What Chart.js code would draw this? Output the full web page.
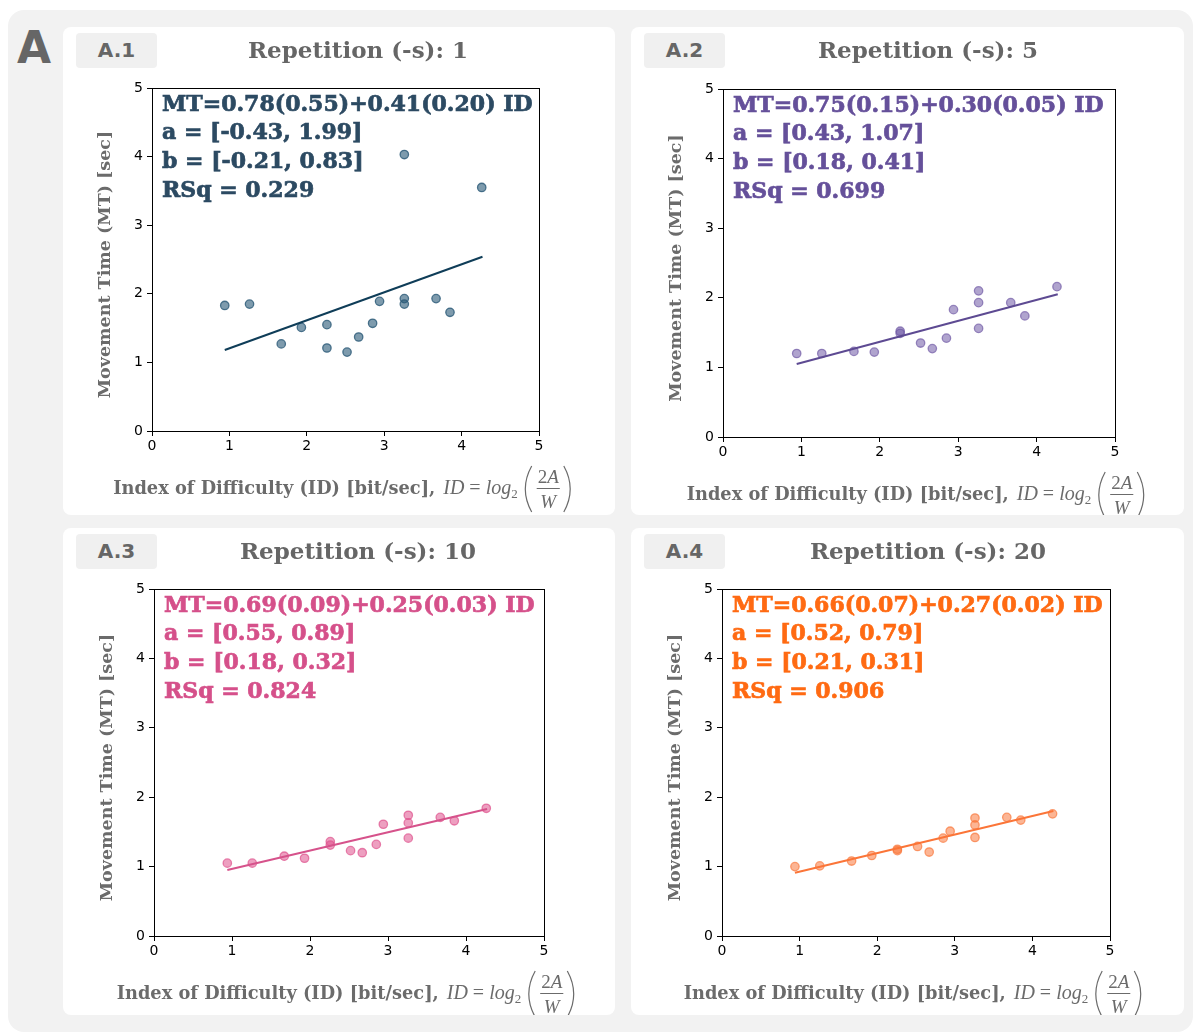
<!DOCTYPE html>
<html>
<head>
<meta charset="utf-8">
<script src="https://cdn.jsdelivr.net/npm/chart.js@4/dist/chart.umd.min.js"></script>
<style>
  html,body{margin:0;padding:0;background:#ffffff;width:1193px;height:1032px;overflow:hidden;}
  #bg{position:absolute;left:8px;top:10px;width:1185px;height:1022px;background:#f2f2f2;border-radius:16px;}
  #bigA{position:absolute;left:17px;top:22px;font:bold 44px 'DejaVu Sans',sans-serif;color:#666;}
  .card{position:absolute;background:#fff;border-radius:8px;}
  .card canvas{position:absolute;left:0;top:0;}
  .badge{position:absolute;left:13px;top:6px;width:81px;height:35px;background:#f0f0f0;border-radius:4px;
         font:bold 20px 'DejaVu Sans',sans-serif;color:#666;text-align:center;line-height:35px;z-index:2;}
  .title{position:absolute;top:9px;height:32px;line-height:32px;font:bold 23px 'DejaVu Serif',serif;color:#666;
         white-space:nowrap;transform:translateX(-50%);z-index:2;}
</style>
</head>
<body>
<div id="bg"></div>
<div id="bigA">A</div>
<div id="root"></div>
<script>
// ---- data ----
const idValues = [0.94, 1.26, 1.67, 1.93, 2.26, 2.26, 2.52, 2.67, 2.85, 2.94, 3.26, 3.26, 3.26, 3.67, 3.85, 4.26];
const mtRep1  = [1.83, 1.85, 1.27, 1.51, 1.55, 1.21, 1.15, 1.37, 1.57, 1.89, 4.03, 1.93, 1.85, 1.93, 1.73, 3.55];
const mtRep5  = [1.20, 1.20, 1.23, 1.22, 1.52, 1.49, 1.35, 1.27, 1.42, 1.83, 2.10, 1.93, 1.56, 1.93, 1.74, 2.16];
const mtRep10 = [1.05, 1.05, 1.15, 1.12, 1.36, 1.31, 1.23, 1.20, 1.32, 1.61, 1.74, 1.63, 1.41, 1.71, 1.66, 1.84];
const mtRep20 = [1.00, 1.01, 1.08, 1.16, 1.25, 1.23, 1.29, 1.21, 1.41, 1.51, 1.70, 1.60, 1.42, 1.71, 1.67, 1.76];
const fitX    = [0.94, 4.27];
const fitRep1  = [1.18, 2.54];
const fitRep5  = [1.05, 2.05];
const fitRep10 = [0.95, 1.83];
const fitRep20 = [0.91, 1.80];
const badges = ["A.1", "A.2", "A.3", "A.4"];
const titles = ["Repetition (-s): 1", "Repetition (-s): 5", "Repetition (-s): 10", "Repetition (-s): 20"];
const notes1  = ["MT=0.78(0.55)+0.41(0.20) ID", "a = [-0.43, 1.99]", "b = [-0.21, 0.83]", "RSq = 0.229"];
const notes5  = ["MT=0.75(0.15)+0.30(0.05) ID", "a = [0.43, 1.07]", "b = [0.18, 0.41]", "RSq = 0.699"];
const notes10 = ["MT=0.69(0.09)+0.25(0.03) ID", "a = [0.55, 0.89]", "b = [0.18, 0.32]", "RSq = 0.824"];
const notes20 = ["MT=0.66(0.07)+0.27(0.02) ID", "a = [0.52, 0.79]", "b = [0.21, 0.31]", "RSq = 0.906"];
const axisTicks = [0, 1, 2, 3, 4, 5];
const yTitle = "Movement Time (MT) [sec]";
const xTitleText = "Index of Difficulty (ID) [bit/sec],";

// ---- layout / style ----
const panels = [
  {card:{l:63, t:27, w:552, h:488}, plot:{l:152, t:88, r:539, b:431}, mt:mtRep1, fit:fitRep1, notes:notes1,
   text:'#2c4a62', line:'#0f3d58', pfill:'rgba(40,88,118,0.6)', pedge:'rgba(40,88,118,0.8)', titleX:295},
  {card:{l:631, t:27, w:553, h:488}, plot:{l:723, t:89, r:1115, b:437}, mt:mtRep5, fit:fitRep5, notes:notes5,
   text:'#65509a', line:'#5d4a92', pfill:'rgba(112,90,165,0.55)', pedge:'rgba(112,90,165,0.7)', titleX:297},
  {card:{l:63, t:528, w:552, h:487}, plot:{l:154, t:589, r:544, b:936}, mt:mtRep10, fit:fitRep10, notes:notes10,
   text:'#d5508a', line:'#d6528b', pfill:'rgba(222,80,140,0.55)', pedge:'rgba(222,80,140,0.7)', titleX:295},
  {card:{l:631, t:528, w:553, h:487}, plot:{l:722, t:589, r:1110, b:936}, mt:mtRep20, fit:fitRep20, notes:notes20,
   text:'#ff6a12', line:'#fb7538', pfill:'rgba(250,120,60,0.55)', pedge:'rgba(250,120,60,0.7)', titleX:297}
];

const labelGray = '#6b6b6b';
const boldSerif = (s) => `bold ${s}px 'DejaVu Serif', serif`;

function drawParen(ctx, x, top, bottom, w, left) {
  const mid = (top + bottom) / 2;
  ctx.beginPath();
  if (left) {
    ctx.moveTo(x + w, top);
    ctx.quadraticCurveTo(x - w * 0.6, mid, x + w, bottom);
  } else {
    ctx.moveTo(x, top);
    ctx.quadraticCurveTo(x + w * 1.6, mid, x, bottom);
  }
  ctx.stroke();
}

const decorPlugin = {
  id: 'decor',
  afterDatasetsDraw(chart, args, opts) {
    const ctx = chart.ctx, a = chart.chartArea;
    ctx.save();
    ctx.strokeStyle = '#000';
    ctx.lineWidth = 1;
    ctx.strokeRect(Math.round(a.left) + 0.5, Math.round(a.top) + 0.5, Math.round(a.right - a.left), Math.round(a.bottom - a.top));
    // annotation text
    ctx.fillStyle = opts.color;
    ctx.strokeStyle = opts.color;
    ctx.lineWidth = 0.7;
    ctx.font = boldSerif(22);
    ctx.textAlign = 'left';
    ctx.textBaseline = 'middle';
    opts.notes.forEach((t, i) => {
      const y = a.top + 17 + i * 28.7;
      ctx.fillText(t, a.left + 10, y);
      ctx.strokeText(t, a.left + 10, y);
    });
    ctx.restore();
  },
  afterDraw(chart) {
    const ctx = chart.ctx, a = chart.chartArea;
    ctx.save();
    ctx.fillStyle = labelGray;
    ctx.strokeStyle = labelGray;
    // y title
    ctx.font = boldSerif(17.5);
    ctx.textAlign = 'center';
    ctx.textBaseline = 'middle';
    ctx.translate(a.left - 47, (a.top + a.bottom) / 2 + 5);
    ctx.rotate(-Math.PI / 2);
    ctx.fillText(yTitle, 0, 0);
    ctx.restore();

    // x title with formula
    ctx.save();
    ctx.fillStyle = labelGray;
    ctx.strokeStyle = labelGray;
    ctx.textBaseline = 'alphabetic';
    ctx.textAlign = 'left';
    const base = a.bottom + 63;
    const fText = boldSerif(17.8);
    const fIt = "italic 20px 'Liberation Serif', serif";
    const fRm = "20px 'Liberation Serif', serif";
    const fSub = "13px 'Liberation Serif', serif";
    const fFrac = "italic 19px 'Liberation Serif', serif";
    const fFracRm = "19px 'Liberation Serif', serif";
    const m = (f, t) => { ctx.font = f; return ctx.measureText(t).width; };
    const wText = m(fText, xTitleText);
    const wID = m(fIt, 'ID');
    const wEq = m(fRm, ' = ');
    const wLog = m(fIt, 'log');
    const wSub = m(fSub, '2');
    const wParen = 12;
    const w2 = m(fFracRm, '2'), wA = m(fFrac, 'A');
    const wNum = w2 + wA;
    const wDen = m(fFrac, 'W');
    const wFrac = Math.max(wNum, wDen) + 6;
    const total = wText + 8 + wID + wEq + wLog + wSub + 5 + wParen + wFrac + wParen;
    let x = (a.left + a.right) / 2 - total / 2 - 2;
    ctx.font = fText; ctx.fillText(xTitleText, x, base); x += wText + 8;
    ctx.font = fIt; ctx.fillText('ID', x, base); x += wID;
    ctx.font = fRm; ctx.fillText(' = ', x, base); x += wEq;
    ctx.font = fIt; ctx.fillText('log', x, base); x += wLog;
    ctx.font = fSub; ctx.fillText('2', x, base + 4); x += wSub + 5;
    ctx.lineWidth = 1.2;
    drawParen(ctx, x + 1, base - 28, base + 18, 8, true); x += wParen;
    const cx = x + wFrac / 2;
    ctx.font = fFracRm; ctx.fillText('2', cx - wNum / 2, base - 11);
    ctx.font = fFrac; ctx.fillText('A', cx - wNum / 2 + w2, base - 11);
    ctx.fillText('W', cx - wDen / 2, base + 14);
    ctx.lineWidth = 1;
    ctx.beginPath(); ctx.moveTo(x + 2, base - 5.5); ctx.lineTo(x + wFrac - 2, base - 5.5); ctx.stroke();
    x += wFrac;
    ctx.lineWidth = 1.2;
    drawParen(ctx, x + 2, base - 28, base + 18, 8, false);
    ctx.restore();
  }
};

const root = document.getElementById('root');
panels.forEach((p, k) => {
  const card = document.createElement('div');
  card.className = 'card';
  Object.assign(card.style, {left: p.card.l + 'px', top: p.card.t + 'px', width: p.card.w + 'px', height: p.card.h + 'px'});
  const badge = document.createElement('div');
  badge.className = 'badge'; badge.textContent = badges[k];
  const title = document.createElement('div');
  title.className = 'title'; title.textContent = titles[k];
  title.style.left = p.titleX + 'px';
  const cv = document.createElement('canvas');
  cv.width = p.card.w; cv.height = p.card.h;
  cv.style.width = p.card.w + 'px'; cv.style.height = p.card.h + 'px';
  card.appendChild(cv); card.appendChild(badge); card.appendChild(title);
  root.appendChild(card);

  const yW = p.plot.l - p.card.l;
  const xH = 30;
  const tickFont = {family: "'DejaVu Sans', sans-serif", size: 14};
  new Chart(cv, {
    type: 'scatter',
    data: {
      datasets: [
        {type: 'line', data: fitX.map((x, i) => ({x: x, y: p.fit[i]})), borderColor: p.line, borderWidth: 2,
         pointRadius: 0, fill: false, order: 0, tension: 0},
        {type: 'scatter', data: idValues.map((x, i) => ({x: x, y: p.mt[i]})), pointRadius: 4.2,
         backgroundColor: p.pfill, borderColor: p.pedge, borderWidth: 1.3, order: 1}
      ]
    },
    options: {
      responsive: false, animation: false, devicePixelRatio: 1,
      layout: {autoPadding: false, padding: {left: 0, top: p.plot.t - p.card.t,
               right: p.card.l + p.card.w - p.plot.r, bottom: p.card.t + p.card.h - p.plot.b - xH}},
      plugins: {legend: {display: false}, tooltip: {enabled: false}, decor: {color: p.text, notes: p.notes}},
      scales: {
        x: {type: 'linear', min: 0, max: 5,
            afterBuildTicks: (s) => { s.ticks = axisTicks.map(v => ({value: v})); },
            ticks: {color: '#000', font: tickFont, padding: 2},
            grid: {drawOnChartArea: false, drawTicks: true, tickLength: 5, tickColor: '#000', tickWidth: 1},
            border: {display: true, color: '#000', width: 1},
            afterFit: (s) => { s.height = xH; }},
        y: {type: 'linear', min: 0, max: 5,
            afterBuildTicks: (s) => { s.ticks = axisTicks.map(v => ({value: v})); },
            ticks: {color: '#000', font: tickFont, padding: 4},
            grid: {drawOnChartArea: false, drawTicks: true, tickLength: 5, tickColor: '#000', tickWidth: 1},
            border: {display: true, color: '#000', width: 1},
            afterFit: (s) => { s.width = yW; }}
      }
    },
    plugins: [decorPlugin]
  });
});
</script>
</body>
</html>
